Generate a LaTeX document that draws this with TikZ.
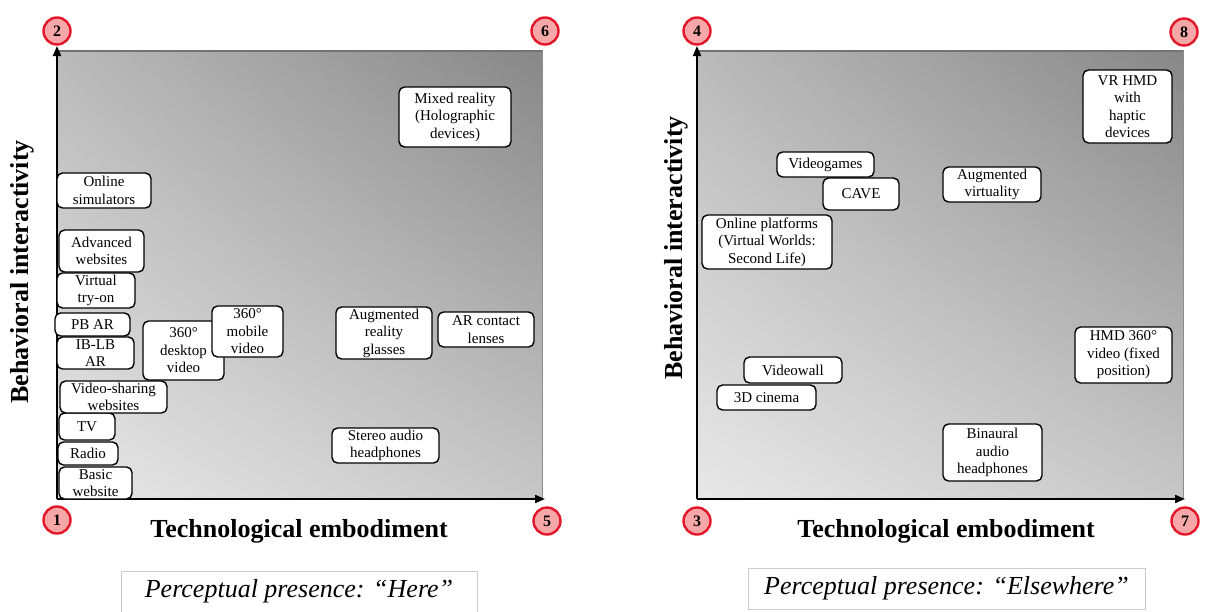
\documentclass[tikz,border=0pt]{standalone}
\usepackage{fontspec}
\setmainfont{Liberation Serif}
\usetikzlibrary{arrows.meta,shadings}
\definecolor{cred}{RGB}{228,22,42}
\definecolor{cpink}{RGB}{246,168,168}
\begin{document}
\begin{tikzpicture}[x=1pt,y=-1pt,
  nbox/.style={draw=black, line width=1.4pt, rounded corners=5.5pt, fill=white, inner sep=0pt, align=center, font=\fontsize{15}{17.5}\selectfont},
  num/.style={circle, draw=cred, line width=2.4pt, fill=cpink, minimum size=27pt, inner sep=0pt, font=\bfseries\fontsize{16}{16}\selectfont},
  axis/.style={line width=2pt, -{Triangle[length=10pt,width=8pt]}},
  ttl/.style={font=\bfseries\fontsize{26}{26}\selectfont},
  pp/.style={draw=gray!40, line width=0.8pt, fill=white, inner sep=0pt, font=\itshape\fontsize{26}{26}\selectfont},
  panel/.style={upper left=black!27, upper right=black!47, lower left=black!9, lower right=black!22}]
\useasboundingbox (0,0) rectangle (1205,611);
\fill[white] (0,0) rectangle (1205,611);

% ---------- left panel ----------
\shade[panel] (57,50) rectangle (542,499);
\draw[black!55, line width=2pt] (57,51) -- (542,51);
\draw[black!45, line width=1pt] (542,50) -- (542,499);

\coordinate (o1) at (57,499);
\coordinate (ty1) at (57,46);
\coordinate (tx1) at (545,499);
\draw[axis] (o1) -- (ty1);
\draw[axis] (o1) -- (tx1);

\node[num] (c2) at (57,31) {2};
\node[num] (c6) at (545,31) {6};
\node[num] (c1) at (57,520) {1};
\node[num] (c5) at (547,521) {5};

\node[ttl, rotate=90] (yl1) at (22,272) {Behavioral interactivity};
\node[ttl] (xl1) at (299,531) {Technological embodiment};
\node[pp, minimum width=356pt, minimum height=41pt] (pp1) at (299,591.5) {Perceptual presence: “Here”};

\node[nbox, minimum width=112pt, minimum height=60pt] (mixed) at (455,117) {Mixed reality\\(Holographic\\devices)};
\node[nbox, minimum width=94pt, minimum height=35pt] (onlsim) at (104,190.5) {Online\\simulators};
\node[nbox, minimum width=78pt, minimum height=35pt] (vtry) at (96,290.5) {Virtual\\try-on};
\node[nbox, minimum width=85pt, minimum height=42pt] (advweb) at (101.5,251) {Advanced\\websites};
\node[nbox, minimum width=77pt, minimum height=32pt] (iblb) at (95.5,353) {IB-LB\\AR};
\node[nbox, minimum width=75pt, minimum height=23pt] (pbar) at (92.5,324.5) {PB AR};
\node[nbox, minimum width=81pt, minimum height=59pt] (desk) at (183.5,350.5) {360°\\desktop\\video};
\node[nbox, minimum width=71pt, minimum height=51pt] (mob) at (247.5,331.5) {360°\\mobile\\video};
\node[nbox, minimum width=56pt, minimum height=27pt] (tv) at (87,426.5) {TV};
\node[nbox, minimum width=107pt, minimum height=32pt] (vshare) at (113.5,397) {Video-sharing\\websites};
\node[nbox, minimum width=60pt, minimum height=23pt] (radio) at (88,453.5) {Radio};
\node[nbox, minimum width=73pt, minimum height=32pt] (basic) at (95.5,483) {Basic\\website};
\node[nbox, minimum width=96pt, minimum height=52pt] (arglass) at (384,333) {Augmented\\reality\\glasses};
\node[nbox, minimum width=96pt, minimum height=35pt] (arlens) at (486,329.5) {AR contact\\lenses};
\node[nbox, minimum width=107pt, minimum height=35pt] (stereo) at (385.5,445.5) {Stereo audio\\headphones};

% ---------- right panel ----------
\shade[panel] (697,50) rectangle (1183,499);
\draw[black!55, line width=2pt] (697,51) -- (1183,51);
\draw[black!45, line width=1pt] (1183,50) -- (1183,499);

\coordinate (o2) at (697,499);
\coordinate (ty2) at (697,46);
\coordinate (tx2) at (1185,499);
\draw[axis] (o2) -- (ty2);
\draw[axis] (o2) -- (tx2);

\node[num] (c4) at (697,31) {4};
\node[num] (c8) at (1184,32) {8};
\node[num] (c3) at (697,521) {3};
\node[num] (c7) at (1185,521) {7};

\node[ttl, rotate=90] (yl2) at (676,248) {Behavioral interactivity};
\node[ttl] (xl2) at (946,531) {Technological embodiment};
\node[pp, minimum width=397pt, minimum height=41pt] (pp2) at (946.5,588.5) {Perceptual presence: “Elsewhere”};

\node[nbox, minimum width=97pt, minimum height=25pt] (vgames) at (825.5,164.5) {Videogames};
\node[nbox, minimum width=76pt, minimum height=32pt] (cave) at (861,194) {CAVE};
\node[nbox, minimum width=130pt, minimum height=54pt] (onlplat) at (767,242) {Online platforms\\(Virtual Worlds:\\Second Life)};
\node[nbox, minimum width=98pt, minimum height=35pt] (augvirt) at (992,184.5) {Augmented\\virtuality};
\node[nbox, minimum width=89pt, minimum height=73pt] (vrhmd) at (1127.5,106.5) {VR HMD\\with\\haptic\\devices};
\node[nbox, minimum width=97pt, minimum height=56pt] (hmd360) at (1123.5,355) {HMD 360°\\video (fixed\\position)};
\node[nbox, minimum width=98pt, minimum height=26pt] (vwall) at (793,370) {Videowall};
\node[nbox, minimum width=99pt, minimum height=25pt] (cinema) at (766.5,397.5) {3D cinema};
\node[nbox, minimum width=99pt, minimum height=57pt] (binaural) at (992.5,452.5) {Binaural\\audio\\headphones};
\end{tikzpicture}
\end{document}
